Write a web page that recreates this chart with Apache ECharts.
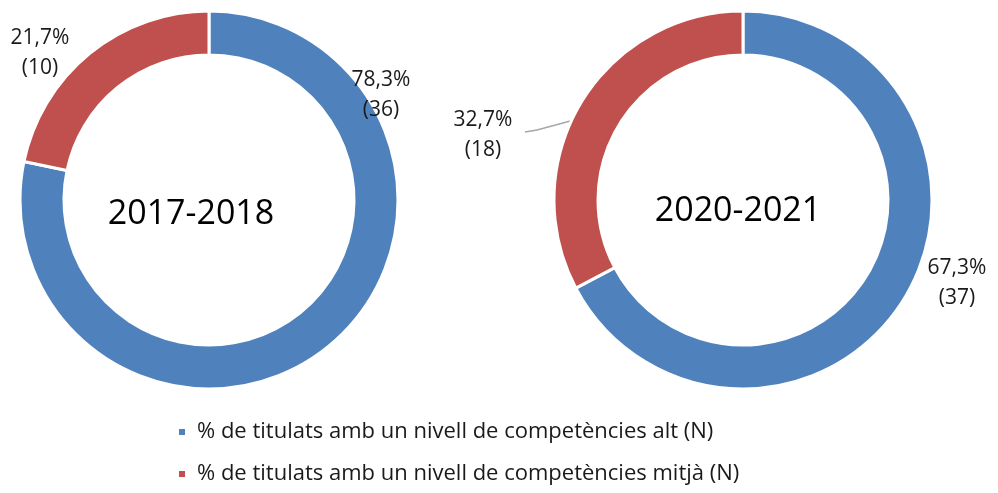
<!DOCTYPE html>
<html>
<head>
<meta charset="utf-8">
<script src="https://cdn.jsdelivr.net/npm/echarts@6/dist/echarts.min.js"></script>
<style>
  html, body { margin: 0; padding: 0; background: #fff; }
  #chart { width: 998px; height: 493px; }
</style>
</head>
<body>
<div id="chart"></div>
<script>
const categories = [
  "% de titulats amb un nivell de competències alt (N)",
  "% de titulats amb un nivell de competències mitjà (N)"
];
const years = ["2017-2018", "2020-2021"];
const counts2017 = [36, 10];
const counts2020 = [37, 18];
const pct2017 = ["78,3%", "21,7%"];
const pct2020 = ["67,3%", "32,7%"];

const colors = ["#4f81bd", "#c0504d"];
const font = "'Open Sans', sans-serif";

// where Excel had put each label (label centre)
const labelSpots = [
  [[381, 95], [40, 53]],
  [[957, 283], [483, 135]]
];

function pieSeries(idx, counts, pcts, center) {
  return {
    type: "pie",
    center,
    radius: [145, 189],
    startAngle: 90,
    clockwise: true,
    silent: true,
    itemStyle: { borderColor: "#fff", borderWidth: 3 },
    label: {
      show: true,
      position: "outside",
      formatter: (p) => `${pcts[p.dataIndex]}\n(${p.value})`,
      fontFamily: font,
      fontSize: 21,
      lineHeight: 30,
      color: "#1a1a1a",
      align: "center",
      overflow: "none",
      width: 100
    },
    labelLine: {
      show: true,
      lineStyle: { color: "#a6a6a6", width: 1.5 }
    },
    labelLayout(params) {
      const [x, y] = labelSpots[idx][params.dataIndex];
      const out = { x, y, align: "center", verticalAlign: "middle", hideOverlap: false };
      if (idx === 1 && params.dataIndex === 1) {
        out.labelLinePoints = [[600, 113], [537, 130], [525, 132]];
      } else {
        out.labelLinePoints = [[x, y], [x, y], [x, y]];
      }
      return out;
    },
    data: categories.map((name, i) => ({ name, value: counts[i], itemStyle: { color: colors[i] } }))
  };
}

const chart = echarts.init(document.getElementById("chart"));
chart.setOption({
  backgroundColor: "#fff",
  animation: false,
  title: [
    { text: years[0], left: 186, top: 209, textAlign: "center", textVerticalAlign: "middle",
      textStyle: { fontFamily: font, fontSize: 34, fontWeight: "normal", color: "#000" } },
    { text: years[1], left: 733, top: 206, textAlign: "center", textVerticalAlign: "middle",
      textStyle: { fontFamily: font, fontSize: 34, fontWeight: "normal", color: "#000" } }
  ],
  legend: {
    orient: "vertical",
    left: 177,
    top: 421,
    padding: 0,
    itemGap: 20,
    itemWidth: 8,
    itemHeight: 8,
    icon: "rect",
    selectedMode: false,
    textStyle: { fontFamily: font, fontSize: 22, lineHeight: 22, color: "#1a1a1a", padding: [0, 0, 0, 6] },
    data: categories
  },
  series: [
    pieSeries(0, counts2017, pct2017, [209, 200]),
    pieSeries(1, counts2020, pct2020, [743, 200])
  ]
});
</script>
</body>
</html>
